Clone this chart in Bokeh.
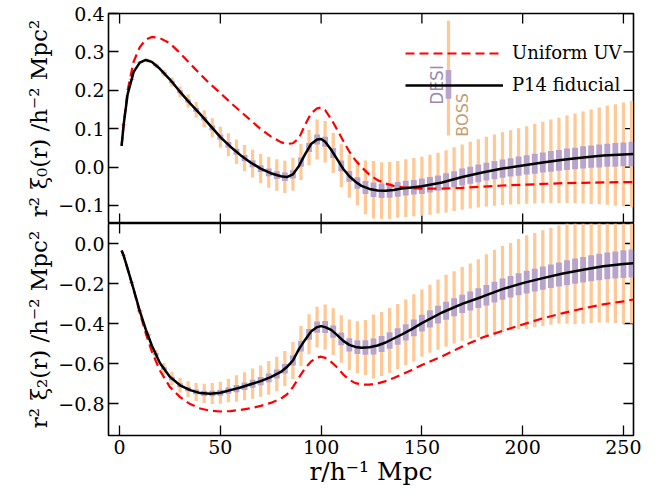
import numpy as np
from bokeh.plotting import figure
from bokeh.layouts import column
from bokeh.models import (FixedTicker, Range1d, Legend, LegendItem,
                          Label, BoxAnnotation, CustomJSTickFormatter, ColumnDataSource)
from bokeh.embed import file_html
from bokeh.resources import INLINE

# ---------------- data ----------------
r_line = [1, 2, 4, 7, 10, 13, 16, 20, 25, 30, 35, 40, 45, 50, 55, 60, 65, 70, 75, 80,
          83, 86, 89, 92, 95, 98, 100, 102, 105, 108, 111, 114, 117, 120, 124, 128,
          132, 136, 140, 145, 150, 160, 170, 180, 190, 200, 210, 220, 230, 240, 250, 255]

xi0_fid = [0.055, 0.110, 0.190, 0.248, 0.272, 0.279, 0.274, 0.256, 0.228, 0.196,
           0.166, 0.138, 0.108, 0.078, 0.053, 0.031, 0.012, -0.004, -0.016, -0.024,
           -0.026, -0.019, 0.003, 0.033, 0.060, 0.072, 0.073, 0.066, 0.045, 0.020,
           -0.005, -0.024, -0.038, -0.049, -0.057, -0.061, -0.062, -0.060, -0.056,
           -0.053, -0.050, -0.040, -0.026, -0.014, -0.004, 0.004, 0.012, 0.019,
           0.025, 0.030, 0.033, 0.034]

xi0_uv = [0.055, 0.110, 0.200, 0.275, 0.312, 0.332, 0.339, 0.336, 0.322, 0.297,
          0.269, 0.242, 0.216, 0.193, 0.168, 0.145, 0.122, 0.099, 0.080, 0.065,
          0.060, 0.062, 0.075, 0.110, 0.140, 0.153, 0.155, 0.148, 0.125, 0.097,
          0.068, 0.040, 0.018, 0.000, -0.020, -0.034, -0.043, -0.049, -0.052,
          -0.055, -0.056, -0.056, -0.054, -0.051, -0.048, -0.046, -0.044, -0.042,
          -0.041, -0.040, -0.039, -0.039]

xi2_fid = [-0.035, -0.060, -0.127, -0.230, -0.337, -0.430, -0.510, -0.598, -0.667,
           -0.709, -0.733, -0.748, -0.751, -0.746, -0.733, -0.720, -0.704, -0.688,
           -0.668, -0.642, -0.618, -0.585, -0.528, -0.482, -0.440, -0.418, -0.413,
           -0.418, -0.432, -0.458, -0.487, -0.507, -0.517, -0.521, -0.519, -0.510,
           -0.495, -0.475, -0.455, -0.428, -0.398, -0.345, -0.302, -0.266, -0.228,
           -0.198, -0.173, -0.150, -0.131, -0.114, -0.103, -0.099]

xi2_uv = [-0.035, -0.060, -0.127, -0.232, -0.345, -0.450, -0.540, -0.635, -0.718,
          -0.768, -0.803, -0.825, -0.836, -0.840, -0.838, -0.832, -0.824, -0.812,
          -0.797, -0.776, -0.755, -0.718, -0.670, -0.625, -0.590, -0.570, -0.566,
          -0.572, -0.592, -0.620, -0.655, -0.682, -0.698, -0.705, -0.706, -0.700,
          -0.688, -0.672, -0.655, -0.632, -0.607, -0.565, -0.515, -0.470, -0.437,
          -0.405, -0.374, -0.348, -0.325, -0.304, -0.289, -0.280]

# error-bar positions (every 4 Mpc/h)
r_bar = [2, 6, 10, 14, 18, 22, 26, 30, 34, 38, 42, 46, 50, 54, 58, 62, 66, 70, 74, 78,
         82, 86, 90, 94, 98, 102, 106, 110, 114, 118, 122, 126, 130, 134, 138, 142,
         146, 150, 154, 158, 162, 166, 170, 174, 178, 182, 186, 190, 194, 198, 202,
         206, 210, 214, 218, 222, 226, 230, 234, 238, 242, 246, 250, 254]

# half-lengths of the error bars
boss0 = [0.002, 0.003, 0.004, 0.005, 0.007, 0.009, 0.012, 0.014, 0.017, 0.020,
         0.022, 0.025, 0.027, 0.030, 0.032, 0.034, 0.036, 0.038, 0.040, 0.041,
         0.042, 0.043, 0.047, 0.046, 0.052, 0.054, 0.052, 0.056, 0.056, 0.058,
         0.070, 0.075, 0.074, 0.074, 0.074, 0.075, 0.076, 0.077, 0.078, 0.079,
         0.081, 0.083, 0.085, 0.087, 0.089, 0.091, 0.093, 0.095, 0.097, 0.099,
         0.101, 0.104, 0.106, 0.109, 0.111, 0.114, 0.117, 0.120, 0.123, 0.126,
         0.129, 0.132, 0.135, 0.138]
desi0 = [0.001, 0.001, 0.001, 0.001, 0.002, 0.002, 0.003, 0.004, 0.004, 0.005,
         0.005, 0.006, 0.007, 0.007, 0.008, 0.008, 0.009, 0.009, 0.010, 0.010,
         0.011, 0.011, 0.012, 0.012, 0.013, 0.013, 0.013, 0.014, 0.014, 0.015,
         0.017, 0.019, 0.019, 0.019, 0.019, 0.019, 0.019, 0.020, 0.020, 0.020,
         0.021, 0.021, 0.022, 0.022, 0.023, 0.023, 0.024, 0.024, 0.024, 0.025,
         0.025, 0.026, 0.026, 0.027, 0.027, 0.028, 0.028, 0.029, 0.029, 0.030,
         0.030, 0.031, 0.031, 0.032]
boss2 = [0.004, 0.008, 0.012, 0.016, 0.022, 0.028, 0.033, 0.036, 0.040, 0.045,
         0.048, 0.052, 0.055, 0.058, 0.066, 0.070, 0.076, 0.078, 0.084, 0.086,
         0.088, 0.092, 0.100, 0.100, 0.102, 0.113, 0.117, 0.119, 0.127, 0.130,
         0.138, 0.160, 0.160, 0.162, 0.163, 0.164, 0.168, 0.168, 0.170, 0.176,
         0.180, 0.181, 0.184, 0.188, 0.195, 0.205, 0.212, 0.216, 0.218, 0.226,
         0.234, 0.236, 0.239, 0.242, 0.245, 0.255, 0.265, 0.270, 0.273, 0.278,
         0.283, 0.290, 0.298, 0.300]
desi2 = [0.001, 0.002, 0.003, 0.004, 0.006, 0.007, 0.009, 0.010, 0.011, 0.012,
         0.013, 0.014, 0.015, 0.016, 0.018, 0.019, 0.020, 0.021, 0.022, 0.023,
         0.024, 0.025, 0.027, 0.027, 0.028, 0.030, 0.031, 0.032, 0.033, 0.034,
         0.036, 0.040, 0.040, 0.041, 0.041, 0.041, 0.042, 0.042, 0.043, 0.044,
         0.045, 0.045, 0.046, 0.047, 0.049, 0.051, 0.052, 0.053, 0.054, 0.055,
         0.057, 0.057, 0.058, 0.059, 0.060, 0.062, 0.063, 0.064, 0.065, 0.066,
         0.067, 0.068, 0.069, 0.070]

x_ticks = [0, 50, 100, 150, 200, 250]
y_ticks0 = [-0.1, 0.0, 0.1, 0.2, 0.3, 0.4]
y_ticks2 = [-0.8, -0.6, -0.4, -0.2, 0.0]

ORANGE = "#ffc894"
PURPLE = "#b8a3ca"
FONT = "DejaVu Serif"
TICK = 10          # tick length, px
FRAME_W = 525      # frame width, px
X0, X1 = -5.5, 255.0

xr = Range1d(X0, X1)
minus_fmt = CustomJSTickFormatter(code="return tick.toFixed(1).replace('-', '\u2212');")


def style_axis(ax):
    ax.major_tick_in = TICK
    ax.major_tick_out = 0
    ax.minor_tick_line_color = None
    ax.major_tick_line_color = "black"
    ax.major_tick_line_width = 1.3
    ax.axis_line_color = None
    ax.major_label_text_font = FONT
    ax.major_label_text_font_size = "19px"
    ax.major_label_text_color = "black"
    ax.major_label_standoff = 4
    ax.axis_label_text_font = FONT
    ax.axis_label_text_font_style = "normal"
    ax.axis_label_text_color = "black"


def make_panel(height, y0, y1, frame_h, yticks, ylabel, top_b, bot_b, show_x):
    p = figure(width=659, height=height, x_range=xr, y_range=Range1d(y0, y1),
               output_backend="svg", toolbar_location=None,
               min_border_left=108, min_border_right=26,
               min_border_top=top_b, min_border_bottom=bot_b)
    p.grid.visible = False
    p.outline_line_color = "black"
    p.outline_line_width = 1.6
    p.outline_line_alpha = 1.0
    p.background_fill_color = "white"
    p.border_fill_color = "white"
    p.xaxis.ticker = FixedTicker(ticks=x_ticks)
    style_axis(p.xaxis[0])
    if show_x:
        p.xaxis.axis_label = "r/h\u207b\u00b9 Mpc"
        p.xaxis.axis_label_text_font_size = "25px"
        p.xaxis.axis_label_standoff = 0
    else:
        p.xaxis.visible = False
    p.yaxis.ticker = FixedTicker(ticks=yticks)
    p.yaxis.formatter = minus_fmt
    p.yaxis.axis_label = ylabel
    p.yaxis.axis_label_text_font_size = "23px"
    p.yaxis.axis_label_standoff = 3
    style_axis(p.yaxis[0])

    # inward mirror ticks on the right and top (and bottom for the upper panel)
    dx = TICK * (X1 - X0) / FRAME_W
    dy = TICK * (y1 - y0) / frame_h
    ny, nx = len(yticks), len(x_ticks)
    tk = dict(line_color="black", line_width=1.3)
    p.segment(x0=[X1 - dx] * ny, x1=[X1] * ny, y0=yticks, y1=yticks, **tk)
    p.segment(x0=x_ticks, x1=x_ticks, y0=[y1 - dy] * nx, y1=[y1] * nx, **tk)
    if not show_x:
        p.segment(x0=x_ticks, x1=x_ticks, y0=[y0] * nx, y1=[y0 + dy] * nx, **tk)
    return p


p0 = make_panel(223, -0.147, 0.4, 210, y_ticks0,
                "r\u00b2 \u03be\u2080(r) /h\u207b\u00b2 Mpc\u00b2", 13, 0, False)
p2 = make_panel(270, -0.96, 0.1, 212, y_ticks2,
                "r\u00b2 \u03be\u2082(r) /h\u207b\u00b2 Mpc\u00b2", 0, 58, True)


def draw(p, fid, uv, boss, desi):
    c = np.interp(r_bar, r_line, fid)
    src = ColumnDataSource(dict(r=r_bar, c=c,
                                blo=c - np.array(boss), bhi=c + np.array(boss),
                                dlo=c - np.array(desi), dhi=c + np.array(desi)))
    p.vbar(x="r", bottom="blo", top="bhi", width=1.6, source=src,
           fill_color=ORANGE, line_color=None)
    p.vbar(x="r", bottom="dlo", top="dhi", width=2.9, source=src,
           fill_color=PURPLE, line_color=None)
    ruv = p.line(r_line, uv, line_color="red", line_width=2.2, line_dash="9 5")
    rfid = p.line(r_line, fid, line_color="black", line_width=2.5)
    return ruv, rfid


ruv0, rfid0 = draw(p0, xi0_fid, xi0_uv, boss0, desi0)
draw(p2, xi2_fid, xi2_uv, boss2, desi2)

legend = Legend(items=[LegendItem(label="Uniform UV", renderers=[ruv0]),
                       LegendItem(label="P14 fiducial", renderers=[rfid0])],
                location=(297, 128), orientation="vertical", padding=0, margin=0,
                spacing=11, glyph_width=98, glyph_height=20, label_height=20,
                label_standoff=9, label_text_font=FONT, label_text_font_size="18px",
                label_text_color="black", background_fill_alpha=0, border_line_alpha=0)
p0.add_layout(legend)

# survey key (BOSS / DESI error-bar sizes)
p0.add_layout(BoxAnnotation(left=162.4, right=164.0, bottom=0.082, top=0.381,
                            fill_color=ORANGE, fill_alpha=1, line_color=None))
p0.add_layout(Label(x=157.3, y=0.214, text="DESI", angle=np.pi / 2,
                    text_align="center", text_baseline="middle",
                    text_font="DejaVu Sans", text_font_size="17px",
                    text_color="#9d88b3", background_fill_color="white"))
p0.add_layout(BoxAnnotation(left=161.8, right=164.6, bottom=0.178, top=0.253,
                            fill_color=PURPLE, fill_alpha=1, line_color=None))
p0.add_layout(Label(x=170.1, y=0.136, text="BOSS", angle=np.pi / 2,
                    text_align="center", text_baseline="middle",
                    text_font="DejaVu Sans", text_font_size="16px",
                    text_color="#c49c76"))

layout = column(p0, p2, spacing=0)
open("out.html", "w").write(file_html(layout, INLINE))
